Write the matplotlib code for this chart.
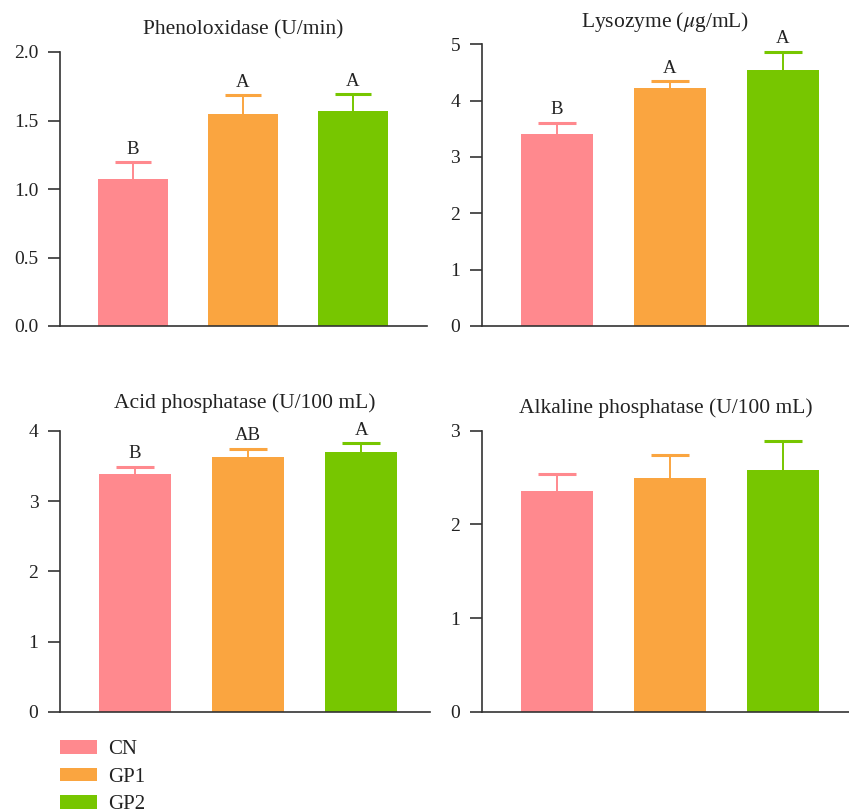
import matplotlib
matplotlib.use("Agg")
import matplotlib.pyplot as plt

plt.rcParams["font.family"] = ["Liberation Serif", "DejaVu Serif"]
plt.rcParams["mathtext.fontset"] = "stix"

GROUPS = ["CN", "GP1", "GP2"]
COLORS = ["#ff898e", "#faa540", "#77c600"]

# means and upper error (SD) per assay
PO_MEAN = [1.07, 1.545, 1.572]
PO_ERR = [0.125, 0.14, 0.12]
PO_LETTERS = ["B", "A", "A"]

LZM_MEAN = [3.41, 4.23, 4.55]
LZM_ERR = [0.20, 0.11, 0.32]
LZM_LETTERS = ["B", "A", "A"]

ACP_MEAN = [3.39, 3.62, 3.70]
ACP_ERR = [0.10, 0.125, 0.12]
ACP_LETTERS = ["B", "AB", "A"]

AKP_MEAN = [2.353, 2.50, 2.58]
AKP_ERR = [0.19, 0.24, 0.31]
AKP_LETTERS = None

PANELS = [
    ("Phenoloxidase (U/min)", PO_MEAN, PO_ERR, PO_LETTERS, (0, 2.0), [0, 0.5, 1.0, 1.5, 2.0], "{:.1f}"),
    ("Lysozyme ($\\mathit{\\mu}$g/mL)", LZM_MEAN, LZM_ERR, LZM_LETTERS, (0, 5), [0, 1, 2, 3, 4, 5], "{:d}"),
    ("Acid phosphatase (U/100 mL)", ACP_MEAN, ACP_ERR, ACP_LETTERS, (0, 4), [0, 1, 2, 3, 4], "{:d}"),
    ("Alkaline phosphatase (U/100 mL)", AKP_MEAN, AKP_ERR, AKP_LETTERS, (0, 3), [0, 1, 2, 3], "{:d}"),
]

W, H = 849, 810
# axes boxes in pixels: left, top, right, bottom, xlim, title pad
BOXES = [
    (60, 52, 427, 326, (-0.664, 2.673), 12.5),
    (481.7, 44.3, 849, 326, (-0.666, 2.584), 12.5),
    (60, 430.7, 430, 712, (-0.664, 2.61), 16.5),
    (481.7, 430.7, 849, 712, (-0.666, 2.584), 12.5),
]
BAR_W = 0.637
CAP_HALF = 0.165

fig = plt.figure(figsize=(W / 100, H / 100), dpi=100)

bars_for_legend = None
for (title, mean, err, letters, ylim, yticks, fmt), (l, t, r, b, xlim, tpad) in zip(PANELS, BOXES):
    ax = fig.add_axes([l / W, 1 - b / H, (r - l) / W, (b - t) / H])
    x = list(range(len(GROUPS)))
    bars = ax.bar(x, mean, width=BAR_W, color=COLORS, label=GROUPS, zorder=2)
    if bars_for_legend is None:
        bars_for_legend = bars
    # upper-only error bars, drawn behind the bars
    tops = [m + e for m, e in zip(mean, err)]
    ax.vlines(x, mean, tops, colors=COLORS, linewidth=1.4, zorder=1)
    ax.hlines(tops, [xi - CAP_HALF for xi in x], [xi + CAP_HALF for xi in x],
              colors=COLORS, linewidth=2.2, zorder=1)
    if letters:
        for xi, top, lab in zip(x, tops, letters):
            ax.annotate(lab, (xi, top), xytext=(0, 6), textcoords="offset points",
                        ha="center", va="baseline", fontsize=13.5, color="#222222")
    ax.set_xlim(*xlim)
    ax.set_ylim(*ylim)
    ax.set_yticks(yticks)
    ax.set_yticklabels([fmt.format(v) for v in yticks])
    ax.set_xticks([])
    for s in ("top", "right"):
        ax.spines[s].set_visible(False)
    for s in ("left", "bottom"):
        ax.spines[s].set_color("#333333")
        ax.spines[s].set_linewidth(1.2)
    ax.tick_params(axis="y", length=9, width=1.2, color="#333333",
                   labelsize=14, labelcolor="#222222", pad=6.5)
    ax.set_title(title, fontsize=15.5, color="#222222", pad=tpad)

leg = fig.legend(bars_for_legend, GROUPS, loc="upper left",
                 bbox_to_anchor=(52 / W, 1 - 732 / H), frameon=False,
                 fontsize=15, handlelength=1.75, handleheight=0.62,
                 handletextpad=0.55, labelspacing=0.4, borderaxespad=0)
for txt in leg.get_texts():
    txt.set_color("#222222")

fig.savefig("out.png", dpi=100)
